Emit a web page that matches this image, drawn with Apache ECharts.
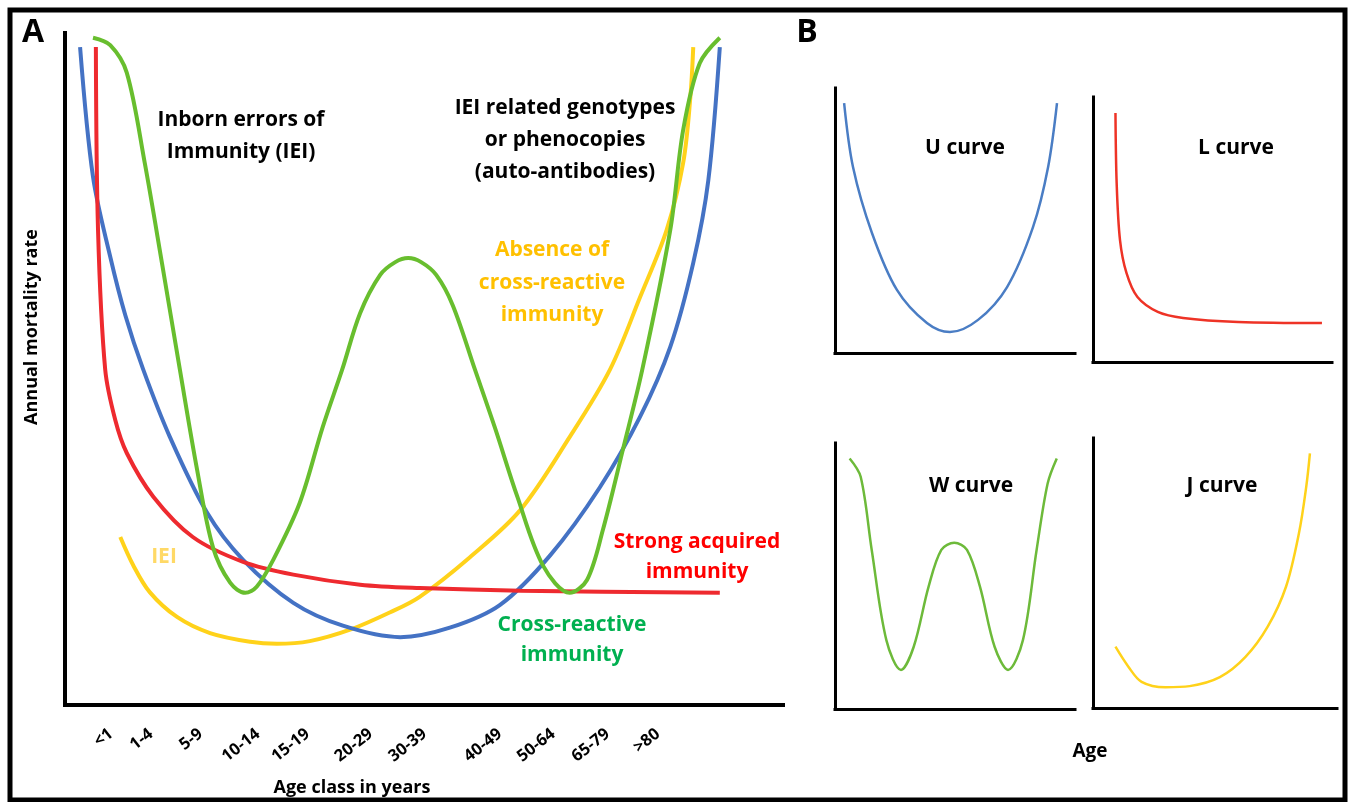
<!DOCTYPE html>
<html>
<head>
<meta charset="utf-8">
<title>Age-specific mortality curves</title>
<script src="https://cdn.jsdelivr.net/npm/echarts@6/dist/echarts.min.js"></script>
<style>
  html, body { margin: 0; padding: 0; background: #fff; }
  #chart { width: 1355px; height: 802px; }
</style>
</head>
<body>
<div id="chart"></div>
<script>
// panel A: age classes and where their labels sit on the 0-100 age axis
const ageLabels = ['<1', '1-4', '5-9', '10-14', '15-19', '20-29', '30-39', '40-49', '50-64', '65-79', '>80'];
const agePos = [6.4, 12.0, 18.9, 26.9, 33.8, 42.6, 50.1, 60.6, 68.0, 75.6, 82.6];

// panel A curves, [age axis, mortality 0-100]
const crossReactive = [
  [2.1, 97.9], [3.9, 78.6], [6.3, 66.7], [8.4, 58.0], [10.9, 49.9],
  [14.6, 39.9], [19.8, 28.6], [24.8, 21.6], [31.8, 15.2], [38.7, 11.8], [46.7, 10.1],
  [53.6, 11.5], [60.6, 14.9], [67.6, 22.3], [74.5, 32.4], [80.1, 42.9], [84.3, 53.3],
  [87.5, 65.8], [89.6, 78.1], [91.2, 97.9]
];
const strongAcquired = [
  [4.3, 97.9], [4.6, 70.7], [5.6, 49.9], [7.0, 42.4], [8.6, 37.5],
  [12.3, 31.0], [17.8, 25.0], [24.8, 21.3], [31.8, 19.4], [41.1, 17.9], [49.4, 17.4],
  [63.4, 17.0], [91.2, 16.7]
];
const iei = [
  [3.9, 99.3], [6.3, 98.2], [8.6, 94.1], [11.1, 80.7], [13.5, 65.8], [16.0, 49.9],
  [18.4, 35.0], [20.6, 23.5], [23.0, 18.2], [25.1, 16.7], [26.7, 17.6], [29.0, 21.6],
  [32.7, 30.1], [35.9, 41.4], [38.6, 49.9], [41.1, 58.3], [43.9, 64.0], [46.0, 65.9],
  [47.8, 66.5], [49.6, 65.9], [51.7, 64.0], [54.0, 59.5], [57.1, 49.9], [59.9, 41.2],
  [63.0, 31.0], [66.6, 20.7], [70.3, 16.7], [72.7, 18.6], [74.9, 26.0], [77.7, 38.0],
  [80.4, 49.9], [84.3, 70.7], [86.1, 85.6], [88.4, 95.5], [91.2, 99.3]
];
const absenceCross = [
  [7.7, 25.0], [9.5, 20.8], [11.8, 16.8], [15.6, 13.1], [20.2, 10.7], [25.8, 9.4],
  [29.5, 9.1], [34.1, 9.5], [39.7, 11.2], [45.3, 13.8], [49.4, 16.1], [56.4, 22.0],
  [63.4, 29.0], [70.3, 39.9], [75.9, 49.9], [80.1, 60.7], [83.8, 70.7], [86.1, 80.7],
  [87.1, 90.5], [87.5, 97.9]
];

// panel B: generic curve shapes, [age 0-100, mortality 0-100]
const uCurve = [
  [3.8, 94.3], [7.5, 70.2], [15.4, 45.3], [25.8, 23.8], [38.3, 11.3], [47.9, 7.9],
  [59.6, 12.5], [71.7, 24.9], [82.5, 47.5], [88.8, 70.2], [92.5, 94.3]
];
const lCurve = [
  [9.4, 94.0], [9.9, 67.5], [11.3, 46.0], [14.0, 33.6], [18.6, 24.5], [27.1, 18.9],
  [37.7, 16.6], [60.7, 15.1], [95.8, 14.7]
];
const wCurve = [
  [6.1, 94.2], [10.7, 87.3], [15.3, 59.8], [21.4, 25.9], [27.5, 14.7], [32.8, 23.4],
  [39.0, 46.0], [44.3, 59.8], [49.7, 62.5], [55.0, 59.8], [60.4, 46.0], [66.5, 23.4],
  [72.1, 14.7], [78.3, 25.9], [84.0, 59.8], [88.6, 84.8], [92.4, 94.2]
];
const jCurve = [
  [9.2, 22.7], [14.5, 15.3], [19.9, 9.7], [29.7, 7.7], [39.6, 8.1], [52.0, 11.4],
  [62.5, 18.9], [71.6, 30.1], [79.1, 44.9], [84.4, 64.7], [87.4, 82.0], [88.9, 94.3]
];

const FONT = '"Open Sans", "Noto Sans", "Liberation Sans", sans-serif';

const chart = echarts.init(document.getElementById('chart'), null, { renderer: 'canvas' });

const grids = [
  { left: 65, top: 33, width: 718, height: 672 },
  { left: 835, top: 88, width: 240, height: 265 },
  { left: 1093, top: 97, width: 239, height: 265 },
  { left: 835, top: 443, width: 240, height: 266 },
  { left: 1093, top: 438, width: 244, height: 270 },
];

const axisBase = i => ({
  type: 'value',
  gridIndex: i,
  min: 0,
  max: 100,
  splitLine: { show: false },
  axisTick: { show: false },
  axisLabel: { show: false },
  axisLine: {
    show: true,
    onZero: false,
    lineStyle: { color: '#000', width: i === 0 ? 4 : 3, cap: 'square' },
  },
});

const xAxes = grids.map((g, i) => axisBase(i));
xAxes[0].axisLabel = {
  show: true,
  customValues: agePos,
  rotate: 38,
  margin: 27,
  color: '#000',
  fontWeight: 'bold',
  fontSize: 16.5,
  fontFamily: FONT,
  formatter: v => {
    let best = 0;
    agePos.forEach((p, k) => {
      if (Math.abs(p - v) < Math.abs(agePos[best] - v)) best = k;
    });
    return ageLabels[best];
  },
};
const yAxes = grids.map((g, i) => axisBase(i));

const line = (data, i, color, width) => ({
  type: 'line',
  xAxisIndex: i,
  yAxisIndex: i,
  data,
  smooth: 0.33,
  symbol: 'none',
  silent: true,
  clip: false,
  lineStyle: { color, width },
});

const txt = (x, y, text, opts = {}) => ({
  type: 'text',
  x,
  y,
  rotation: opts.rotation || 0,
  z: 10,
  style: {
    text,
    fill: opts.color || '#000',
    fontSize: opts.size || 21,
    fontWeight: 'bold',
    fontFamily: FONT,
    align: 'center',
    verticalAlign: 'middle',
    lineHeight: opts.lh || 32,
  },
});

const option = {
  animation: false,
  backgroundColor: '#fff',
  grid: grids,
  xAxis: xAxes,
  yAxis: yAxes,
  series: [
    line(absenceCross, 0, '#FFD21A', 4),
    line(crossReactive, 0, '#4472C4', 4),
    line(strongAcquired, 0, '#EE2A2F', 4),
    line(iei, 0, '#68BE2E', 4),
    line(uCurve, 1, '#4A7DC4', 2.5),
    line(lCurve, 2, '#EE3326', 2.5),
    line(wCurve, 3, '#6DBA3A', 2.5),
    line(jCurve, 4, '#FFD21A', 2.5),
  ],
  graphic: [
    {
      type: 'rect',
      shape: { x: 10, y: 10, width: 1335, height: 790 },
      style: { fill: 'none', stroke: '#000', lineWidth: 5 },
    },
    txt(33, 33, 'A', { size: 32 }),
    txt(807, 33, 'B', { size: 32 }),
    txt(32, 327, 'Annual mortality rate', { size: 18, rotation: Math.PI / 2 }),
    txt(352, 788, 'Age class in years', { size: 18 }),
    txt(241, 136, 'Inborn errors of\nImmunity (IEI)'),
    txt(565, 140, 'IEI related genotypes\nor phenocopies\n(auto-antibodies)'),
    txt(552, 283, 'Absence of\ncross-reactive\nimmunity', { color: '#FFC000', lh: 32.5 }),
    txt(164, 557, 'IEI', { color: '#FFD966' }),
    txt(697, 557, 'Strong acquired\nimmunity', { color: '#FF0000', lh: 30 }),
    txt(572, 640, 'Cross-reactive\nimmunity', { color: '#00B050', lh: 30 }),
    txt(965, 148, 'U curve'),
    txt(1236, 148, 'L curve'),
    txt(971, 486, 'W curve'),
    txt(1222, 486, 'J curve'),
    txt(1090, 752, 'Age', { size: 19 }),
  ],
};

chart.setOption(option);
window.addEventListener('resize', () => chart.resize());
</script>
</body>
</html>
